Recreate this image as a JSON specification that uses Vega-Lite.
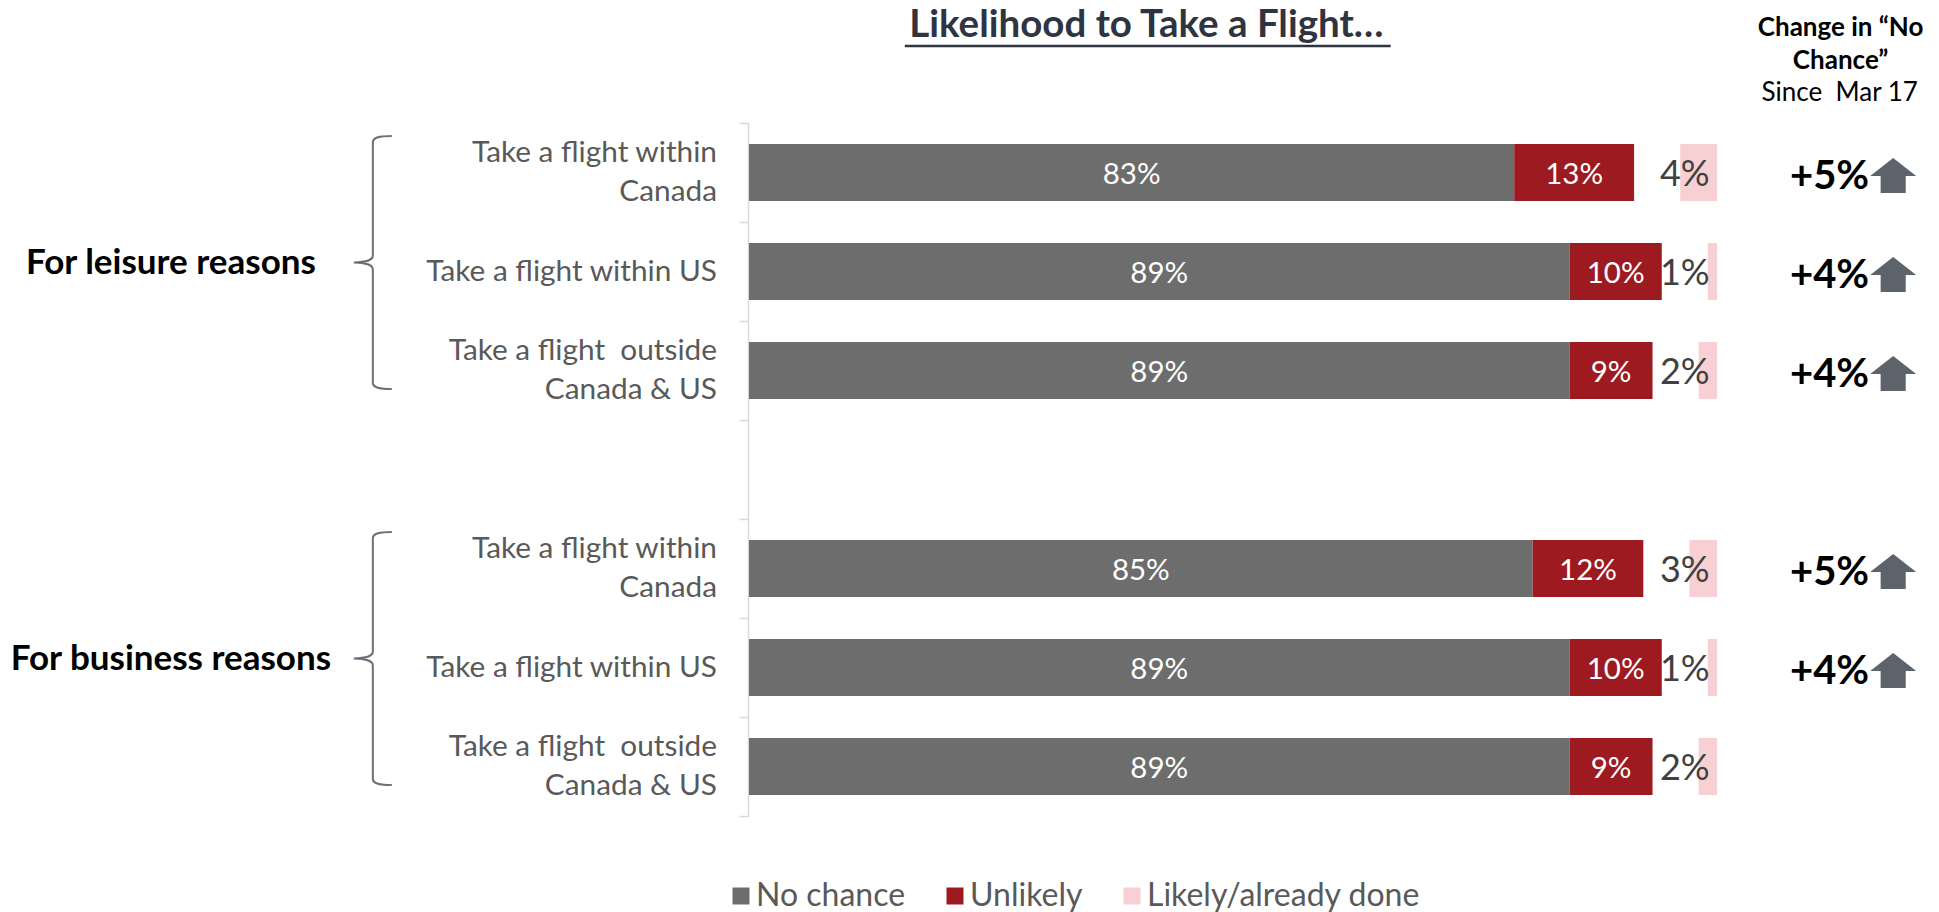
{
  "$schema": "https://vega.github.io/schema/vega-lite/v6.json",
  "autosize": {"type": "none"},
  "padding": {"left": 749, "top": 123, "right": 0, "bottom": 96},
  "width": 1190,
  "height": 693,
  "background": "white",
  "config": {"view": {"stroke": null}, "font": "Lato"},
  "datasets": {
    "items": [
      {"item": "L1", "label": "Take a flight within\nCanada", "No chance": 83, "Unlikely": 13, "Likely/already done": 4, "change": "+5%"},
      {"item": "L2", "label": "Take a flight within US", "No chance": 89, "Unlikely": 10, "Likely/already done": 1, "change": "+4%"},
      {"item": "L3", "label": "Take a flight \u00a0outside\nCanada & US", "No chance": 89, "Unlikely": 9, "Likely/already done": 2, "change": "+4%"},
      {"item": "B1", "label": "Take a flight within\nCanada", "No chance": 85, "Unlikely": 12, "Likely/already done": 3, "change": "+5%"},
      {"item": "B2", "label": "Take a flight within US", "No chance": 89, "Unlikely": 10, "Likely/already done": 1, "change": "+4%"},
      {"item": "B3", "label": "Take a flight \u00a0outside\nCanada & US", "No chance": 89, "Unlikely": 9, "Likely/already done": 2, "change": null}
    ],
    "groups": [
      {"item": "L2", "group": "For leisure reasons"},
      {"item": "B2", "group": "For business reasons"}
    ]
  },
  "data": {"name": "items"},
  "layer": [
    {
      "transform": [
        {"fold": ["No chance", "Unlikely"], "as": ["cat", "value"]},
        {"stack": "value", "groupby": ["item"], "sort": [{"field": "cat", "order": "ascending"}], "as": ["x0", "x1"]}
      ],
      "mark": {"type": "bar", "height": {"band": 0.576}},
      "encoding": {
        "y": {"field": "item", "type": "nominal", "scale": {"type": "band", "domain": ["L1", "L2", "L3", "gap", "B1", "B2", "B3"], "paddingInner": 0, "paddingOuter": 0},
          "axis": {"orient": "left", "labels": false, "title": null, "ticks": true, "tickBand": "extent", "tickSize": 9, "tickColor": "#d9d9d9", "tickWidth": 1.5, "domainColor": "#d9d9d9", "domainWidth": 1.5, "grid": false, "offset": 1}},
        "x": {"field": "x0", "type": "quantitative", "scale": {"domain": [0, 129.07], "nice": false, "zero": false}, "axis": null},
        "x2": {"field": "x1"},
        "color": {"field": "cat", "type": "nominal",
          "scale": {"domain": ["No chance", "Unlikely", "Likely/already done"], "range": ["#6d6d6d", "#9d1a20", "#f8d0d3"]},
          "legend": {"orient": "none", "legendX": -24, "legendY": 757, "direction": "horizontal", "title": null, "symbolType": "square", "symbolSize": 289, "symbolStrokeWidth": 0, "symbolOpacity": 1, "labelFontSize": 32, "labelColor": "#595959", "labelFont": "Lato", "labelOffset": -1, "columnPadding": 33, "padding": 0, "labelLimit": 500}}
      }
    },
    {
      "transform": [
        {"fold": ["Likely/already done"], "as": ["cat", "value"]},
        {"calculate": "105 - datum.value", "as": "xs"}
      ],
      "mark": {"type": "bar", "height": {"band": 0.576}},
      "encoding": {
        "y": {"field": "item", "type": "nominal", "scale": {"type": "band", "domain": ["L1", "L2", "L3", "gap", "B1", "B2", "B3"], "paddingInner": 0, "paddingOuter": 0}},
        "x": {"field": "xs", "type": "quantitative", "scale": {"domain": [0, 129.07], "nice": false, "zero": false}, "axis": null},
        "x2": {"datum": 105},
        "color": {"field": "cat", "type": "nominal"}
      }
    },
    {
      "transform": [
        {"fold": ["No chance", "Unlikely"], "as": ["cat", "value"]},
        {"stack": "value", "groupby": ["item"], "sort": [{"field": "cat", "order": "ascending"}], "as": ["x0", "x1"]},
        {"calculate": "(datum.x0 + datum.x1) / 2", "as": "mid"},
        {"calculate": "datum.value + '%'", "as": "txt"}
      ],
      "mark": {"type": "text", "color": "white", "fontSize": 29.5, "align": "center", "baseline": "middle", "dy": 2},
      "encoding": {
        "y": {"field": "item", "type": "nominal", "scale": {"type": "band", "domain": ["L1", "L2", "L3", "gap", "B1", "B2", "B3"], "paddingInner": 0, "paddingOuter": 0}},
        "x": {"field": "mid", "type": "quantitative", "scale": {"domain": [0, 129.07], "nice": false, "zero": false}, "axis": null},
        "text": {"field": "txt"}
      }
    },
    {
      "transform": [
        {"fold": ["Likely/already done"], "as": ["cat", "value"]},
        {"calculate": "datum.value + '%'", "as": "txt"}
      ],
      "mark": {"type": "text", "color": "#404040", "fontSize": 36, "align": "center", "baseline": "middle", "dy": 2},
      "encoding": {
        "y": {"field": "item", "type": "nominal", "scale": {"type": "band", "domain": ["L1", "L2", "L3", "gap", "B1", "B2", "B3"], "paddingInner": 0, "paddingOuter": 0}},
        "x": {"datum": 101.5, "type": "quantitative", "scale": {"domain": [0, 129.07], "nice": false, "zero": false}, "axis": null},
        "text": {"field": "txt"}
      }
    },
    {
      "transform": [{"filter": "indexof(datum.label, '\\n') < 0"}],
      "mark": {"type": "text", "color": "#595959", "fontSize": 29.8, "align": "right", "baseline": "middle"},
      "encoding": {
        "y": {"field": "item", "type": "nominal", "scale": {"type": "band", "domain": ["L1", "L2", "L3", "gap", "B1", "B2", "B3"], "paddingInner": 0, "paddingOuter": 0}},
        "x": {"datum": -3.47, "type": "quantitative", "scale": {"domain": [0, 129.07], "nice": false, "zero": false}, "axis": null},
        "text": {"field": "label"}
      }
    },
    {
      "transform": [{"filter": "indexof(datum.label, '\\n') >= 0"}],
      "mark": {"type": "text", "color": "#595959", "fontSize": 29.8, "align": "right", "baseline": "middle", "lineBreak": "\n", "lineHeight": 39, "dy": -19.5},
      "encoding": {
        "y": {"field": "item", "type": "nominal", "scale": {"type": "band", "domain": ["L1", "L2", "L3", "gap", "B1", "B2", "B3"], "paddingInner": 0, "paddingOuter": 0}},
        "x": {"datum": -3.47, "type": "quantitative", "scale": {"domain": [0, 129.07], "nice": false, "zero": false}, "axis": null},
        "text": {"field": "label"}
      }
    },
    {
      "transform": [{"filter": "datum.change != null"}],
      "mark": {"type": "text", "color": "#000000", "fontSize": 40, "fontWeight": "bold", "align": "center", "baseline": "middle", "dy": 4},
      "encoding": {
        "y": {"field": "item", "type": "nominal", "scale": {"type": "band", "domain": ["L1", "L2", "L3", "gap", "B1", "B2", "B3"], "paddingInner": 0, "paddingOuter": 0}},
        "x": {"datum": 117.2, "type": "quantitative", "scale": {"domain": [0, 129.07], "nice": false, "zero": false}, "axis": null},
        "text": {"field": "change"}
      }
    },
    {
      "transform": [{"filter": "datum.change != null"}],
      "mark": {"type": "point", "shape": "M0,-0.76 L1,0.02 L0.545,0.02 L0.545,0.76 L-0.545,0.76 L-0.545,0.02 L-1,0.02 Z", "size": 2116, "filled": true, "color": "#5c636b", "opacity": 1, "strokeWidth": 0, "yOffset": 3},
      "encoding": {
        "y": {"field": "item", "type": "nominal", "scale": {"type": "band", "domain": ["L1", "L2", "L3", "gap", "B1", "B2", "B3"], "paddingInner": 0, "paddingOuter": 0}},
        "x": {"datum": 124.1, "type": "quantitative", "scale": {"domain": [0, 129.07], "nice": false, "zero": false}, "axis": null}
      }
    },
    {
      "data": {"name": "groups"},
      "mark": {"type": "text", "color": "#000000", "fontSize": 35, "fontWeight": "bold", "align": "center", "baseline": "middle", "dy": -9},
      "encoding": {
        "y": {"field": "item", "type": "nominal", "scale": {"type": "band", "domain": ["L1", "L2", "L3", "gap", "B1", "B2", "B3"], "paddingInner": 0, "paddingOuter": 0}},
        "x": {"datum": -62.7, "type": "quantitative", "scale": {"domain": [0, 129.07], "nice": false, "zero": false}, "axis": null},
        "text": {"field": "group"}
      }
    },
    {
      "data": {"name": "groups"},
      "mark": {"type": "point", "shape": "M0.15,-1 C0.04,-1 0,-0.985 0,-0.95 L0,-0.055 C0,-0.02 -0.04,-0.004 -0.15,0 C-0.04,0.004 0,0.02 0,0.055 L0,0.95 C0,0.985 0.04,1 0.15,1", "size": 64009, "filled": false, "color": "#6b7079", "opacity": 1, "strokeWidth": 2, "yOffset": -9},
      "encoding": {
        "y": {"field": "item", "type": "nominal", "scale": {"type": "band", "domain": ["L1", "L2", "L3", "gap", "B1", "B2", "B3"], "paddingInner": 0, "paddingOuter": 0}},
        "x": {"datum": -40.8, "type": "quantitative", "scale": {"domain": [0, 129.07], "nice": false, "zero": false}, "axis": null}
      }
    },
    {
      "data": {"values": [{}]},
      "mark": {"type": "text", "text": "Likelihood to Take a Flight…", "color": "#2e3440", "fontSize": 38.5, "fontWeight": "bold", "align": "center", "baseline": "alphabetic", "dy": -136},
      "encoding": {
        "y": {"datum": "L1", "type": "nominal", "scale": {"type": "band", "domain": ["L1", "L2", "L3", "gap", "B1", "B2", "B3"], "paddingInner": 0, "paddingOuter": 0}},
        "x": {"datum": 43.1, "type": "quantitative", "scale": {"domain": [0, 129.07], "nice": false, "zero": false}, "axis": null}
      }
    },
    {
      "data": {"values": [{}]},
      "mark": {"type": "rule", "color": "#2e3440", "strokeWidth": 2.5, "yOffset": -126.5},
      "encoding": {
        "y": {"datum": "L1", "type": "nominal", "scale": {"type": "band", "domain": ["L1", "L2", "L3", "gap", "B1", "B2", "B3"], "paddingInner": 0, "paddingOuter": 0}},
        "x": {"datum": 16.9, "type": "quantitative", "scale": {"domain": [0, 129.07], "nice": false, "zero": false}, "axis": null},
        "x2": {"datum": 69.6}
      }
    },
    {
      "data": {"values": [{}]},
      "mark": {"type": "text", "text": "Change in “No", "color": "#000000", "fontSize": 26, "fontWeight": "bold", "align": "center", "baseline": "alphabetic", "dy": -136.5},
      "encoding": {
        "y": {"datum": "L1", "type": "nominal", "scale": {"type": "band", "domain": ["L1", "L2", "L3", "gap", "B1", "B2", "B3"], "paddingInner": 0, "paddingOuter": 0}},
        "x": {"datum": 118.4, "type": "quantitative", "scale": {"domain": [0, 129.07], "nice": false, "zero": false}, "axis": null}
      }
    },
    {
      "data": {"values": [{}]},
      "mark": {"type": "text", "text": "Chance”", "color": "#000000", "fontSize": 26, "fontWeight": "bold", "align": "center", "baseline": "alphabetic", "dy": -103.5},
      "encoding": {
        "y": {"datum": "L1", "type": "nominal", "scale": {"type": "band", "domain": ["L1", "L2", "L3", "gap", "B1", "B2", "B3"], "paddingInner": 0, "paddingOuter": 0}},
        "x": {"datum": 118.4, "type": "quantitative", "scale": {"domain": [0, 129.07], "nice": false, "zero": false}, "axis": null}
      }
    },
    {
      "data": {"values": [{}]},
      "mark": {"type": "text", "text": "Since \u00a0Mar 17", "color": "#000000", "fontSize": 26, "align": "center", "baseline": "alphabetic", "dy": -72},
      "encoding": {
        "y": {"datum": "L1", "type": "nominal", "scale": {"type": "band", "domain": ["L1", "L2", "L3", "gap", "B1", "B2", "B3"], "paddingInner": 0, "paddingOuter": 0}},
        "x": {"datum": 118.3, "type": "quantitative", "scale": {"domain": [0, 129.07], "nice": false, "zero": false}, "axis": null}
      }
    }
  ]
}
